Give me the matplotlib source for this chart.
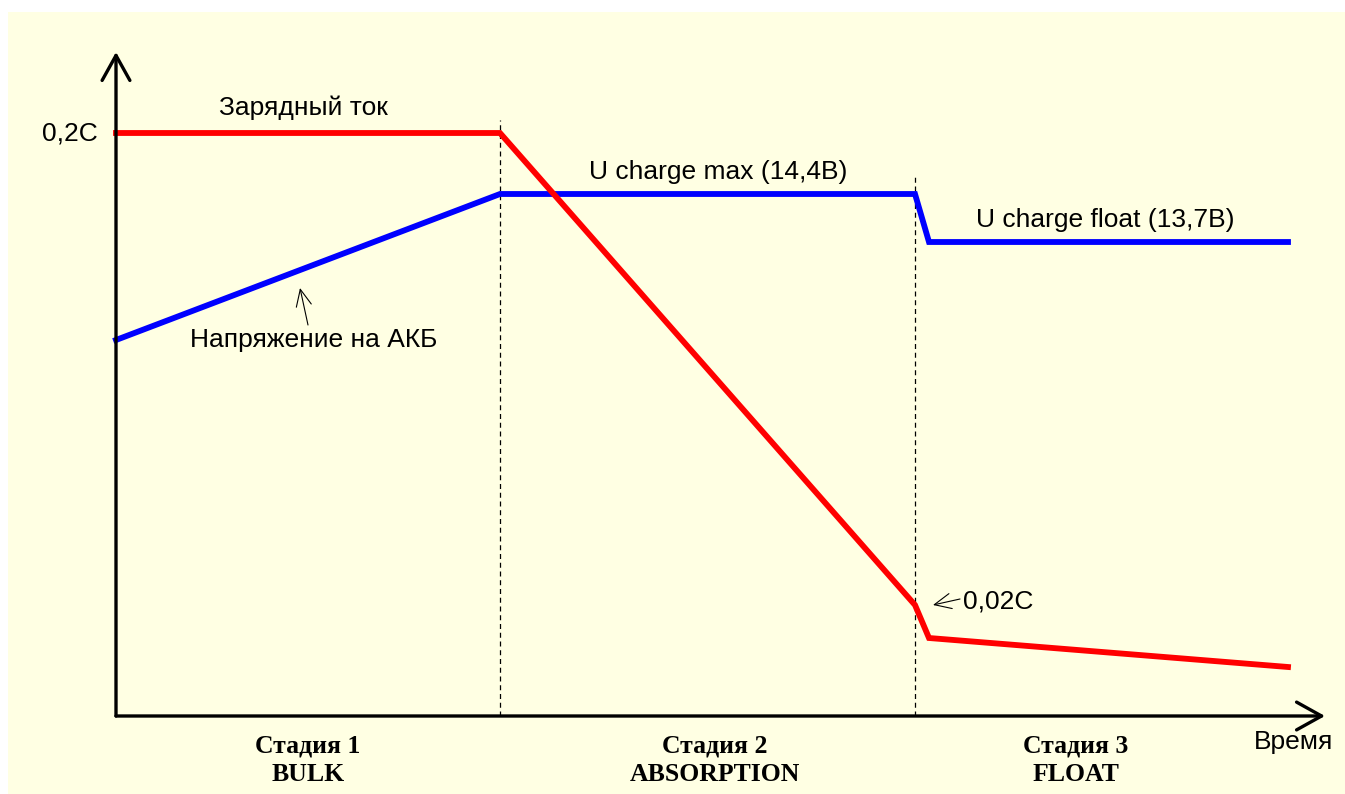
import matplotlib

matplotlib.use("Agg")
import matplotlib.pyplot as plt
from matplotlib.patches import Rectangle, FancyArrowPatch

# schematic readings (time and level in arbitrary units)
current_t = [0.0, 3.84, 7.99, 8.13, 11.72]
current_v = [5.83, 5.83, 1.11, 0.78, 0.49]
voltage_t = [0.0, 3.84, 7.99, 8.13, 11.72]
voltage_v = [3.76, 5.22, 5.22, 4.74, 4.74]
stage_bounds = [3.84, 7.99]
stage_names = ["Стадия 1\nBULK", "Стадия 2\nABSORPTION", "Стадия 3\nFLOAT"]
stage_x = [1.92, 5.99, 9.60]

C_RED = "#ff0000"
C_BLUE = "#0000ff"
BG = "#ffffe3"
SANS = ["Liberation Sans", "DejaVu Sans"]
SERIF = ["Liberation Serif", "DejaVu Serif"]

fig = plt.figure(figsize=(13.45, 7.94), dpi=100, facecolor="white")
ax = fig.add_axes([0, 0, 1, 1])
ax.set_xlim(-1.16, 12.29)
ax.set_ylim(-0.78, 7.16)
ax.set_axis_off()

ax.add_patch(Rectangle((8 / 1345, 0), 1, 1 - 12 / 794, transform=ax.transAxes,
                       facecolor=BG, edgecolor="none", zorder=0))

# axes arrows
for xy1 in [(0, 6.64), (12.09, 0)]:
    ax.add_patch(FancyArrowPatch((0, 0), xy1, arrowstyle="->,head_length=0.9,head_width=0.5",
                                 mutation_scale=20, lw=2.4, color="black",
                                 shrinkA=0, shrinkB=0, zorder=4))

# stage boundaries
ax.vlines(stage_bounds[0], 0, 5.96, colors="black", linestyles=(0, (4, 3)), lw=0.9, zorder=1)
ax.vlines(stage_bounds[1], 0, 5.41, colors="black", linestyles=(0, (4, 3)), lw=0.9, zorder=1)

ax.plot(voltage_t, voltage_v, color=C_BLUE, lw=4.2, solid_joinstyle="miter", zorder=2)
ax.plot(current_t, current_v, color=C_RED, lw=4.2, solid_joinstyle="miter", zorder=3)

fs = 19
ax.text(-0.46, 5.83, "0,2C", fontsize=fs, family=SANS, ha="center", va="center")
ax.text(1.87, 6.08, "Зарядный ток", fontsize=fs, family=SANS, ha="center", va="center")
ax.text(6.02, 5.44, "U charge max (14,4В)", fontsize=fs, family=SANS, ha="center", va="center")
ax.text(9.89, 4.96, "U charge float (13,7В)", fontsize=fs, family=SANS, ha="center", va="center")
ax.text(1.98, 3.76, "Напряжение на АКБ", fontsize=fs, family=SANS, ha="center", va="center")
ax.text(8.47, 1.15, "0,02C", fontsize=fs, family=SANS, ha="left", va="center")
ax.text(11.78, -0.26, "Время", fontsize=fs, family=SANS, ha="center", va="center")

thin = dict(arrowstyle="->,head_length=1.2,head_width=0.55", lw=0.8, color="black",
            mutation_scale=10, shrinkA=0, shrinkB=0)
ax.annotate("", xy=(1.84, 4.28), xytext=(1.92, 3.91), arrowprops=thin)
ax.annotate("", xy=(8.17, 1.11), xytext=(8.44, 1.17), arrowprops=thin)

for x, name in zip(stage_x, stage_names):
    ax.text(x, -0.44, name, fontsize=18.5, family=SERIF, fontweight="bold",
            ha="center", va="center", linespacing=1.32)

fig.savefig("out.png", dpi=100, facecolor="white")
plt.close(fig)
